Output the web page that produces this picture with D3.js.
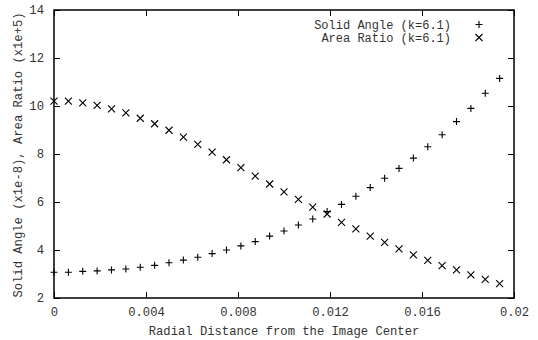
<!DOCTYPE html>
<html>
<head>
<meta charset="utf-8">
<script src="https://cdn.jsdelivr.net/npm/d3@7"></script>
<style>
  body { margin: 0; background: #fff; }
  text { font-family: "Liberation Mono", "DejaVu Sans Mono", monospace; }
</style>
</head>
<body>
<div id="chart"></div>
<script>
// radial distance (x) for each sample
let radius = [0, 0.000625, 0.00125, 0.001875, 0.0025, 0.003125, 0.00375, 0.004375,
    0.005, 0.005625, 0.00625, 0.006875, 0.0075, 0.008125, 0.00875, 0.009375,
    0.01, 0.010625, 0.01125, 0.011875, 0.0125, 0.013125, 0.01375, 0.014375,
    0.015, 0.015625, 0.01625, 0.016875, 0.0175, 0.018125, 0.01875, 0.019375];

// Solid Angle (x1e-8), k=6.1
let solidAngle = [3.07, 3.07, 3.11, 3.13, 3.17, 3.21, 3.28, 3.36,
    3.47, 3.58, 3.70, 3.85, 4.00, 4.17, 4.35, 4.58,
    4.79, 5.04, 5.29, 5.60, 5.90, 6.24, 6.60, 6.99,
    7.40, 7.83, 8.30, 8.80, 9.35, 9.90, 10.53, 11.15];

// Area Ratio (x1e+5), k=6.1
let areaRatio = [10.20, 10.20, 10.13, 10.03, 9.88, 9.71, 9.49, 9.26,
    8.99, 8.70, 8.40, 8.08, 7.76, 7.43, 7.08, 6.75,
    6.42, 6.11, 5.79, 5.50, 5.15, 4.88, 4.58, 4.32,
    4.05, 3.80, 3.57, 3.35, 3.17, 2.96, 2.78, 2.60];

let xTicks = [0, 0.004, 0.008, 0.012, 0.016, 0.02];
let xTickLabels = ["0", "0.004", "0.008", "0.012", "0.016", "0.02"];
let yTicks = [2, 4, 6, 8, 10, 12, 14];

let width = 538, height = 340;
let margin = {top: 10, right: 24, bottom: 42, left: 54};
let plotW = width - margin.left - margin.right;
let plotH = height - margin.top - margin.bottom;

let svg = d3.select("#chart")
    .append("svg")
    .attr("width", width)
    .attr("height", height)
    .append("g")
    .attr("transform", `translate(${margin.left}, ${margin.top})`);

let x = d3.scaleLinear().domain([0, 0.02]).range([0, plotW]);
let y = d3.scaleLinear().domain([2, 14]).range([plotH, 0]);

// axes with inward ticks on all four sides
let xAxis = svg.append("g")
    .attr("transform", `translate(0, ${plotH})`)
    .call(d3.axisBottom(x).tickValues(xTicks)
        .tickFormat((d, i) => xTickLabels[i]).tickSize(-6));
xAxis.selectAll("text").attr("y", 14).attr("dy", "0.35em");

let yAxis = svg.append("g")
    .call(d3.axisLeft(y).tickValues(yTicks).tickFormat(d3.format("d")).tickSize(-6));
yAxis.selectAll("text").attr("x", -10);

svg.append("g")
    .call(d3.axisTop(x).tickValues(xTicks).tickFormat("").tickSize(-6));
svg.append("g")
    .attr("transform", `translate(${plotW}, 0)`)
    .call(d3.axisRight(y).tickValues(yTicks).tickFormat("").tickSize(-6));

svg.selectAll(".domain").remove();
svg.selectAll(".tick line").attr("stroke", "#000").attr("stroke-width", 1);
svg.selectAll(".tick text")
    .style("font-size", "12.2px")
    .attr("fill", "#333");

svg.append("rect")
    .attr("width", plotW)
    .attr("height", plotH)
    .attr("fill", "none")
    .attr("stroke", "#000")
    .attr("stroke-width", 1.5);

let s = 3.5;
function plus(g) {
    g.append("path").attr("d", `M${-s},0H${s}M0,${-s}V${s}`);
}
function cross(g) {
    g.append("path").attr("d", `M${-s},${-s}L${s},${s}M${-s},${s}L${s},${-s}`);
}

let pts = radius.map((r, i) => [r, solidAngle[i], areaRatio[i]]);

svg.append("g").selectAll("g").data(pts).enter()
    .append("g")
    .attr("transform", d => `translate(${x(d[0])}, ${y(d[1])})`)
    .each(function() { plus(d3.select(this)); });

svg.append("g").selectAll("g").data(pts).enter()
    .append("g")
    .attr("transform", d => `translate(${x(d[0])}, ${y(d[2])})`)
    .each(function() { cross(d3.select(this)); });

svg.selectAll("path:not(.domain)")
    .attr("stroke", "#000")
    .attr("stroke-width", 1.1)
    .attr("fill", "none");

// legend
let legend = svg.append("g");
let legendItems = [["Solid Angle (k=6.1)", plus], ["Area Ratio (k=6.1)", cross]];
legendItems.forEach(function(item, i) {
    let ly = 24.5 - margin.top + i * 13;
    legend.append("text")
        .attr("x", 451 - margin.left)
        .attr("y", ly)
        .attr("dy", "0.35em")
        .style("text-anchor", "end")
        .style("font-size", "12px")
        .attr("fill", "#333")
        .text(item[0]);
    let m = legend.append("g")
        .attr("transform", `translate(${479 - margin.left}, ${ly})`);
    item[1](m);
    m.selectAll("path").attr("stroke", "#000").attr("stroke-width", 1.1).attr("fill", "none");
});

// axis titles
svg.append("text")
    .attr("transform", `translate(${plotW / 2}, ${plotH + 33})`)
    .attr("dy", "0.35em")
    .style("text-anchor", "middle")
    .style("font-size", "12.2px")
    .attr("fill", "#333")
    .text("Radial Distance from the Image Center");

svg.append("text")
    .attr("transform", `translate(${18 - margin.left}, ${155 - margin.top})rotate(-90)`)
    .attr("dy", "0.35em")
    .style("text-anchor", "middle")
    .style("font-size", "12.2px")
    .attr("fill", "#333")
    .text("Solid Angle (x1e-8), Area Ratio (x1e+5)");
</script>
</body>
</html>
